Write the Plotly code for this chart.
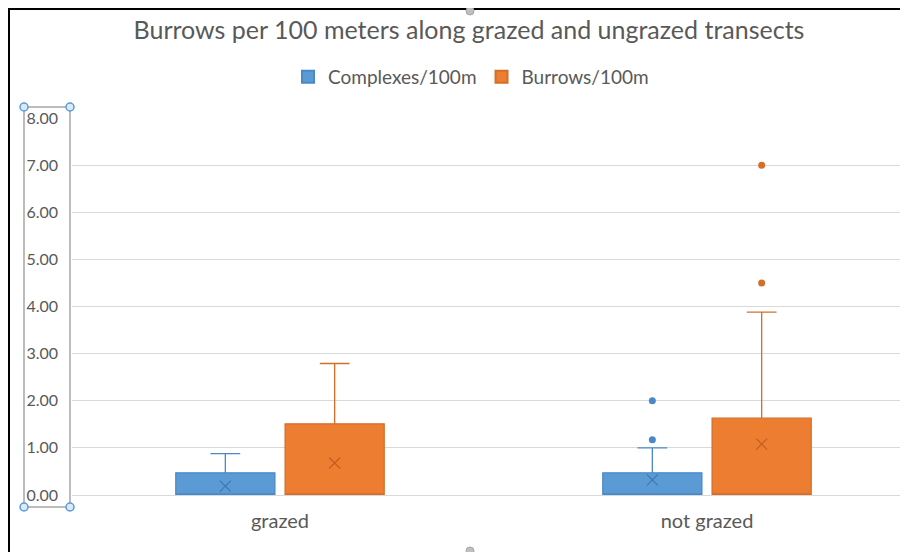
import plotly.graph_objects as go

# ---------------- data ----------------
groups = ["grazed", "not grazed"]
series_names = ["Complexes/100m", "Burrows/100m"]

complexes_q1 = [0.0, 0.0]
complexes_median = [0.0, 0.0]
complexes_q3 = [0.47, 0.47]
complexes_lower = [0.0, 0.0]
complexes_upper = [0.88, 1.00]
complexes_mean = [0.19, 0.32]
complexes_outlier_groups = ["not grazed", "not grazed"]
complexes_outliers = [1.17, 2.00]

burrows_q1 = [0.0, 0.0]
burrows_median = [0.0, 0.0]
burrows_q3 = [1.51, 1.63]
burrows_lower = [0.0, 0.0]
burrows_upper = [2.79, 3.88]
burrows_mean = [0.68, 1.08]
burrows_outlier_groups = ["not grazed", "not grazed"]
burrows_outliers = [4.50, 7.00]

y_ticks = [0, 1, 2, 3, 4, 5, 6, 7, 8]

# ---------------- style ----------------
# page has an 8px body margin, so the figure is 8px smaller than the window
W, H = 900, 544
ML, MR, MT, MB = 64, 0, 110, 57
PW, PH = W - ML - MR, H - MT - MB
FONT = "Lato"
TXT = "#595959"

fills = ["#5B9BD5", "#ED7D31"]
lines = ["#4A89C6", "#D46F2A"]
mean_cols = ["#3F78AD", "#BF5F22"]
offsets = [-0.128, 0.128]
box_w = 0.232

idx = {g: i for i, g in enumerate(groups)}

# helpers: page pixel -> paper fraction
def px_x(px):
    return (px - 8 - ML) / PW

def px_y(py):
    return (H - MB - (py - 8)) / PH

fig = go.Figure()

stats = [
    (complexes_q1, complexes_median, complexes_q3, complexes_lower, complexes_upper,
     complexes_mean, complexes_outlier_groups, complexes_outliers),
    (burrows_q1, burrows_median, burrows_q3, burrows_lower, burrows_upper,
     burrows_mean, burrows_outlier_groups, burrows_outliers),
]

for s, (q1, med, q3, lo, up, mean, og, ov) in enumerate(stats):
    xs = [idx[g] + offsets[s] for g in groups]
    fig.add_trace(go.Box(
        x=xs, q1=q1, median=med, q3=q3, lowerfence=lo, upperfence=up,
        width=box_w, whiskerwidth=0.3,
        fillcolor=fills[s], line=dict(color=lines[s], width=1.3),
        boxpoints=False, showlegend=False, hoverinfo="skip",
        name=series_names[s],
    ))
    fig.add_trace(go.Scatter(
        x=xs, y=mean, mode="markers", showlegend=False, hoverinfo="skip",
        marker=dict(symbol="x-thin", size=11, line=dict(color=mean_cols[s], width=1.2)),
    ))
    fig.add_trace(go.Scatter(
        x=[idx[g] + offsets[s] for g in og], y=ov, mode="markers",
        showlegend=False, hoverinfo="skip",
        marker=dict(symbol="circle", size=7, color=lines[s]),
    ))
    # legend proxies
    fig.add_trace(go.Scatter(
        x=[None], y=[None], mode="markers", name=series_names[s],
        marker=dict(symbol="square", size=14, color=fills[s],
                    line=dict(color=lines[s], width=1)),
    ))

shapes = []
# chart frame (left and top edges)
shapes.append(dict(type="line", xref="paper", yref="paper",
                   x0=px_x(9), x1=px_x(9), y0=px_y(9), y1=px_y(552),
                   line=dict(color="black", width=2)))
shapes.append(dict(type="line", xref="paper", yref="paper",
                   x0=px_x(8), x1=px_x(908), y0=px_y(9), y1=px_y(9),
                   line=dict(color="black", width=2)))
# selection box around the value axis
shapes.append(dict(type="rect", xref="paper", yref="paper",
                   x0=px_x(24), x1=px_x(70), y0=px_y(507), y1=px_y(107),
                   line=dict(color="#A6A6A6", width=1.5)))
for cx in (24, 70):
    for cy in (107, 507):
        shapes.append(dict(type="circle", xref="paper", yref="paper",
                           x0=px_x(cx - 4), x1=px_x(cx + 4),
                           y0=px_y(cy + 4), y1=px_y(cy - 4),
                           fillcolor="#DCEAF7", line=dict(color="#5B9BD5", width=1.5)))
# chart handles at top / bottom centre
for cy in (11, 551):
    shapes.append(dict(type="circle", xref="paper", yref="paper",
                       x0=px_x(466), x1=px_x(474),
                       y0=px_y(cy + 4), y1=px_y(cy - 4),
                       fillcolor="#BFBFBF", line=dict(color="#A6A6A6", width=1)))

fig.update_layout(
    width=W, height=H, autosize=False,
    margin=dict(l=ML, r=MR, t=MT, b=MB, pad=0),
    paper_bgcolor="white", plot_bgcolor="white",
    font=dict(family=FONT, color=TXT),
    title=dict(text="Burrows per 100 meters along grazed and ungrazed transects",
               x=px_x(469), xref="paper", xanchor="center",
               y=1 - (30 - 8) / H, yref="container", yanchor="middle",
               font=dict(family=FONT, size=25, color=TXT)),
    legend=dict(orientation="h", x=px_x(471), xanchor="center",
                y=px_y(77), yanchor="middle",
                font=dict(family=FONT, size=19, color=TXT),
                itemsizing="constant", itemwidth=30, bgcolor="rgba(0,0,0,0)"),
    xaxis=dict(range=[-(280 - 72) / 427, 1 + (908 - 707) / 427],
               tickvals=list(range(len(groups))), ticktext=groups,
               showgrid=False, zeroline=False, showline=False, ticks="",
               ticklabelstandoff=12,
               tickfont=dict(family=FONT, size=20, color=TXT)),
    yaxis=dict(range=[0, 8], tickvals=y_ticks, tickformat=".2f",
               showgrid=True, gridcolor="#D9D9D9", gridwidth=1,
               zeroline=True, zerolinecolor="#D9D9D9", zerolinewidth=1,
               showline=False, ticks="", ticklabelstandoff=13,
               tickfont=dict(family=FONT, size=16, color=TXT)),
    shapes=shapes,
    showlegend=True,
)

fig.write_html("out.html")
